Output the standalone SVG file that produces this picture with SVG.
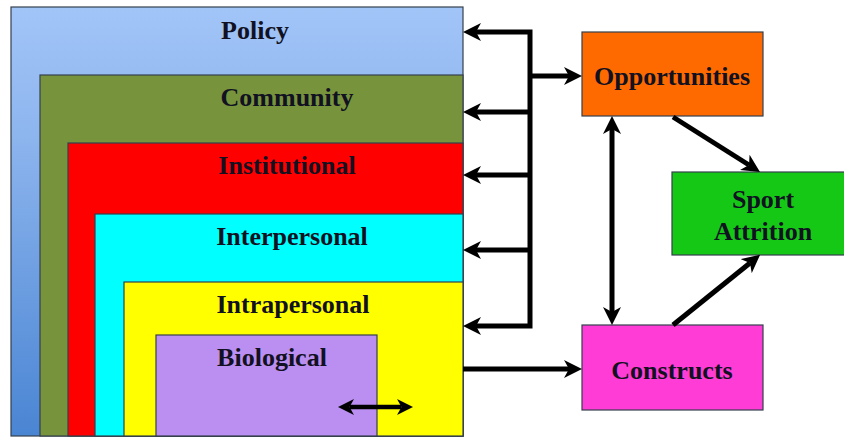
<svg xmlns="http://www.w3.org/2000/svg" width="844" height="438" viewBox="0 0 844 438">
  <style>
    .box { stroke: #34404c; stroke-width: 1.2; }
    .lbl { font-family: "Liberation Serif", "Times New Roman", serif; font-weight: bold; font-size: 26px; text-anchor: middle; fill: #111122; }
    .con { fill: none; stroke: #000; stroke-width: 5; }
    .con-s { fill: none; stroke: #000; stroke-width: 4.5; }
  </style>
  <defs>
    <linearGradient id="policyGrad" x1="0" y1="0" x2="0" y2="1">
      <stop offset="0" stop-color="#a2c5f8"/>
      <stop offset="0.3" stop-color="#8db5ee"/>
      <stop offset="1" stop-color="#4a85d3"/>
    </linearGradient>
    <marker id="ah" viewBox="0 0 18 18" markerWidth="18" markerHeight="18" refX="5" refY="9" orient="auto-start-reverse" markerUnits="userSpaceOnUse">
      <path d="M0,0 L18,9 L0,18 L5,9 z" fill="#000"/>
    </marker>
    <marker id="ahs" viewBox="0 0 16 16" markerWidth="16" markerHeight="16" refX="4.5" refY="8" orient="auto-start-reverse" markerUnits="userSpaceOnUse">
      <path d="M0,0 L16,8 L0,16 L4.5,8 z" fill="#000"/>
    </marker>
  </defs>

  <g id="policy">
    <rect class="box" x="11" y="7" width="452" height="429" fill="url(#policyGrad)"/>
    <text class="lbl" x="255" y="39">Policy</text>
  </g>
  <g id="community">
    <rect class="box" x="40" y="75" width="423" height="361" fill="#77933c"/>
    <text class="lbl" x="287" y="106">Community</text>
  </g>
  <g id="institutional">
    <rect class="box" x="68" y="143" width="395" height="293" fill="#ff0000"/>
    <text class="lbl" x="287" y="174" fill="#2a0000">Institutional</text>
  </g>
  <g id="interpersonal">
    <rect class="box" x="95" y="214" width="368" height="222" fill="#00ffff"/>
    <text class="lbl" x="292" y="245">Interpersonal</text>
  </g>
  <g id="intrapersonal">
    <rect class="box" x="124" y="282" width="339" height="154" fill="#ffff00"/>
    <text class="lbl" x="293" y="313">Intrapersonal</text>
  </g>
  <g id="biological">
    <rect class="box" x="156" y="335" width="221" height="101" fill="#bb8ef2"/>
    <text class="lbl" x="272" y="366">Biological</text>
  </g>

  <g id="opportunities">
    <rect class="box" x="582" y="32" width="181" height="84" fill="#ff6a00"/>
    <text class="lbl" x="672" y="85">Opportunities</text>
  </g>
  <g id="sport-attrition">
    <rect class="box" x="672" y="172" width="181" height="83" fill="#16c816"/>
    <text class="lbl" x="763" y="208">Sport</text>
    <text class="lbl" x="763" y="240">Attrition</text>
  </g>
  <g id="constructs">
    <rect class="box" x="582" y="325" width="181" height="85" fill="#ff3dd6"/>
    <text class="lbl" x="672" y="379" fill="#2a0a3a">Constructs</text>
  </g>

  <g id="connectors">
    <path class="con" d="M476,32 H530 V326 H476" marker-start="url(#ah)" marker-end="url(#ah)"/>
    <path class="con" d="M530,112 H476" marker-end="url(#ah)"/>
    <path class="con" d="M530,175 H476" marker-end="url(#ah)"/>
    <path class="con" d="M530,250 H476" marker-end="url(#ah)"/>
    <path class="con" d="M530,76 H569" marker-end="url(#ah)"/>
    <path class="con" d="M463,369 H569" marker-end="url(#ah)"/>
    <path class="con" d="M612,129 V312" marker-start="url(#ah)" marker-end="url(#ah)"/>
    <path class="con" d="M673,117 L749,165" marker-end="url(#ah)"/>
    <path class="con" d="M673,325 L750,263" marker-end="url(#ah)"/>
    <path class="con-s" d="M349.5,407 H401.5" marker-start="url(#ahs)" marker-end="url(#ahs)"/>
  </g>
</svg>
